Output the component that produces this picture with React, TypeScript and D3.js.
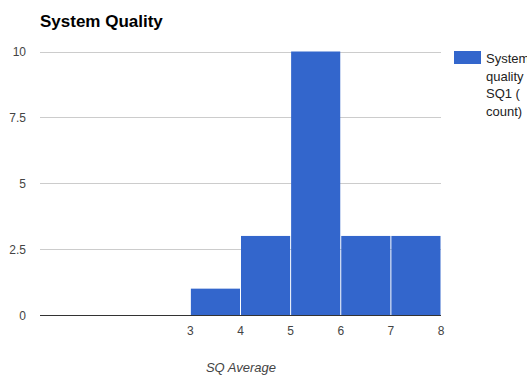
import React from "react";
import * as d3 from "d3";

const binStarts = [3, 4, 5, 6, 7];
const binWidth = 1;
const counts = [1, 3, 10, 3, 3];
const xTicks = [3, 4, 5, 6, 7, 8];
const yTicks = [0, 2.5, 5, 7.5, 10];
const legendLines = ["System", "quality", "SQ1 (", "count)"];

const W = 527;
const H = 375;
const FONT = "Arial, 'Liberation Sans', sans-serif";

export default function App() {
  const x = d3.scaleLinear().domain([0, 8]).range([40, 441]);
  const y = d3.scaleLinear().domain([0, 10]).range([315, 51.5]);

  return (
    <svg
      width={W}
      height={H}
      style={{ position: "absolute", left: 0, top: 0, background: "#fff", overflow: "hidden" }}
      fontFamily={FONT}
    >
      <rect width={W} height={H} fill="#fff" />
      <text x={40} y={27} fontSize={17} fontWeight="bold" fill="#000">
        System Quality
      </text>

      {yTicks.map((t) => (
        <g key={t}>
          {t !== 0 && (
            <line x1={40} x2={441} y1={Math.round(y(t)) + 0.5} y2={Math.round(y(t)) + 0.5} stroke="#ccc" strokeWidth={1} />
          )}
          <text x={26} y={y(t) + 4.5} textAnchor="end" fontSize={12} fill="#444">
            {d3.format("~g")(t)}
          </text>
        </g>
      ))}

      {counts.map((c, i) => {
        const x0 = x(binStarts[i]);
        const x1 = x(binStarts[i] + binWidth);
        return (
          <rect
            key={i}
            x={x0 + 0.5}
            y={y(c)}
            width={x1 - x0 - 1}
            height={y(0) - y(c)}
            fill="#3366cc"
          />
        );
      })}

      <line x1={40} x2={441} y1={315.5} y2={315.5} stroke="#333" strokeWidth={1} />

      {xTicks.map((t) => (
        <text key={t} x={x(t)} y={335} textAnchor="middle" fontSize={12} fill="#444">
          {t}
        </text>
      ))}

      <text x={241} y={372} textAnchor="middle" fontSize={13} fontStyle="italic" fill="#444">
        SQ Average
      </text>

      <rect x={454} y={51} width={27} height={13} fill="#3366cc" />
      {legendLines.map((l, i) => (
        <text key={i} x={486} y={63 + i * 17.7} fontSize={13} fill="#222">
          {l}
        </text>
      ))}
    </svg>
  );
}
